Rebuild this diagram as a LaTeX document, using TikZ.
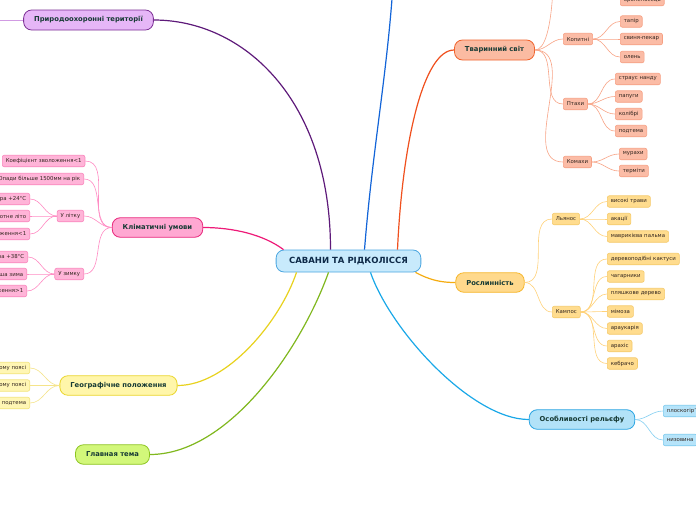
\documentclass[tikz,border=0pt]{standalone}
\usepackage{fontspec}
\setmainfont{DejaVu Sans}
\usetikzlibrary{calc}
\definecolor{maintext}{HTML}{173B35}
\definecolor{centtext}{HTML}{0E2A48}
\definecolor{subtext}{HTML}{33261F}
\definecolor{cfill}{HTML}{C8EAFC}\definecolor{cdraw}{HTML}{4BA6E0}
\definecolor{prfill}{HTML}{E6B6F7}\definecolor{prdraw}{HTML}{7C3095}\definecolor{prlink}{HTML}{5E1A7A}
\definecolor{klfill}{HTML}{FFA8D2}\definecolor{kldraw}{HTML}{E8287C}\definecolor{kllink}{HTML}{EE1A78}
\definecolor{gefill}{HTML}{FFF6AA}\definecolor{gedraw}{HTML}{EAD62C}\definecolor{gelink}{HTML}{E8D21E}
\definecolor{gtfill}{HTML}{D2F77A}\definecolor{gtdraw}{HTML}{8CC420}\definecolor{gtlink}{HTML}{80B81E}
\definecolor{anfill}{HTML}{FBBBA2}\definecolor{andraw}{HTML}{F0642E}\definecolor{anlink}{HTML}{F0501E}
\definecolor{plfill}{HTML}{FFD98C}\definecolor{pldraw}{HTML}{F6B62A}\definecolor{pllink}{HTML}{F5AC10}
\definecolor{refill}{HTML}{B2E2F8}\definecolor{redraw}{HTML}{2AA4E2}\definecolor{relink}{HTML}{1AA8E8}
\definecolor{bluelink}{HTML}{1264D8}
\definecolor{spkfill}{HTML}{FFB4D8}\definecolor{spkdraw}{HTML}{F986BD}\definecolor{spklink}{HTML}{FF8CC4}
\definecolor{ssafill}{HTML}{FBBCA6}\definecolor{ssadraw}{HTML}{F6A083}\definecolor{ssalink}{HTML}{F8A486}
\definecolor{syefill}{HTML}{FFDC8E}\definecolor{syedraw}{HTML}{F5CA6A}\definecolor{syelink}{HTML}{FFD27A}
\definecolor{sgefill}{HTML}{FFF6B4}\definecolor{sgedraw}{HTML}{F2E47C}\definecolor{sgelink}{HTML}{F5E48A}
\definecolor{scyfill}{HTML}{B6E4FA}\definecolor{scydraw}{HTML}{7CCAEE}\definecolor{scylink}{HTML}{86D0F2}
\begin{document}
\begin{tikzpicture}[x=1pt,y=-1pt,
  mainbox/.style={draw, line width=0.8pt, rounded corners=8pt, inner xsep=10.5pt, inner ysep=0pt, minimum height=19.5pt, font=\fontsize{6.8}{7.5}\selectfont\bfseries, text=maintext},
  subbox/.style={draw, line width=0.6pt, rounded corners=2pt, inner xsep=3.5pt, inner ysep=0pt, minimum height=11.5pt, font=\fontsize{5.4}{6}\selectfont, text=subtext},
  pk/.style={subbox, fill=spkfill, draw=spkdraw},
  sa/.style={subbox, fill=ssafill, draw=ssadraw},
  ye/.style={subbox, fill=syefill, draw=syedraw},
  ge/.style={subbox, fill=sgefill, draw=sgedraw},
  cy/.style={subbox, fill=scyfill, draw=scydraw},
  mainlink/.style={line width=1.2pt},
  sublink/.style={line width=0.6pt}]
\useasboundingbox (0,0) rectangle (696,520);
\fill[white] (0,0) rectangle (696,520);

% ---------- central and main nodes ----------
\node[mainbox, fill=cfill, draw=cdraw, text=centtext, font=\fontsize{8.5}{9.5}\selectfont\bfseries, inner xsep=13pt, minimum height=22pt] (c) at (348.5,261) {САВАНИ ТА РІДКОЛІССЯ};
\node[mainbox, fill=prfill, draw=prdraw, minimum height=20pt] (pr) at (88.5,20) {Природоохоронні території};
\node[mainbox, fill=klfill, draw=kldraw] (kl) at (157.5,227.5) {Кліматичні умови};
\node[mainbox, fill=gefill, draw=gedraw] (ge) at (118.5,385.5) {Географічне положення};
\node[mainbox, fill=gtfill, draw=gtdraw] (gt) at (112.5,454.5) {Главная тема};
\node[mainbox, fill=anfill, draw=andraw, minimum height=20pt] (an) at (494.5,50) {Тваринний світ};
\node[mainbox, fill=plfill, draw=pldraw] (pl) at (490,282.5) {Рослинність};
\node[mainbox, fill=refill, draw=redraw] (re) at (582,419.5) {Особливості рельєфу};

\coordinate (hidtop) at (393,-15);
\coordinate (hidpr) at (-10,20);
\coordinate (hidan) at (553,-12);

% ---------- main connectors ----------
\draw[mainlink, prlink] ([xshift=-18pt]c.north) .. controls +(0,-150) and +(90,0) .. (pr.east);
\draw[mainlink, bluelink] ([xshift=16pt]c.north) .. controls +(8,-100) and +(-6,90) .. (hidtop);
\draw[mainlink, anlink] ([xshift=49pt]c.north) .. controls +(5,-110) and +(-30,0) .. (an.west);
\draw[mainlink, kllink] ([xshift=-65pt]c.north) .. controls +(-20,-15) and +(30,0) .. (kl.east);
\draw[mainlink, gelink] ([xshift=-52pt]c.south) .. controls +(-16,48) and +(50,0) .. (ge.east);
\draw[mainlink, gtlink] ([xshift=-20pt]c.south) .. controls +(-28,78) and +(78,0) .. (gt.east);
\draw[mainlink, relink] ([xshift=22pt]c.south) .. controls +(20,58) and +(-57,0) .. (re.west);
\draw[mainlink, pllink] ([xshift=67pt]c.south) .. controls +(15,8) and +(-14,0) .. (pl.west);

% ---------- Природоохоронні ----------
\draw[sublink, prfill!80!prdraw] (pr.west) -- (hidpr);

% ---------- Кліматичні умови ----------
\node[pk, anchor=west] (k1) at (2,161) {Коефіцієнт зволоження<1};
\node[pk, anchor=east] (k2) at (84,179) {Опади більше 1500мм на рік};
\node[pk, anchor=east] (kl0) at (84,216) {У літку};
\node[pk, anchor=east] (kl1) at (30,199) {Температура +24°C};
\node[pk, anchor=east] (kl2) at (30,216) {Спекотне літо};
\node[pk, anchor=east] (kl3) at (30,234) {Коефіцієнт зволоження<1};
\node[pk, anchor=east] (kz0) at (84,274) {У зимку};
\node[pk, anchor=east] (kz1) at (28,257) {Температура +38°C};
\node[pk, anchor=east] (kz2) at (27,274) {Тепліша зима};
\node[pk, anchor=east] (kz3) at (27,291) {Коефіцієнт зволоження>1};
\foreach \n in {k1,k2,kl0,kz0}
  \draw[sublink, spklink] (kl.west) to[out=180,in=0] (\n.east);
\foreach \n in {kl1,kl2,kl3}
  \draw[sublink, spklink] (kl0.west) to[out=180,in=0] (\n.east);
\foreach \n in {kz1,kz2,kz3}
  \draw[sublink, spklink] (kz0.west) to[out=180,in=0] (\n.east);

% ---------- Географічне положення ----------
\node[ge, anchor=east] (g1) at (30,368) {у субекваторіальному поясі};
\node[ge, anchor=east] (g2) at (30,385.5) {у тропічному поясі};
\node[ge, anchor=east] (g3) at (30,403) {подтема};
\foreach \n in {g1,g2,g3}
  \draw[sublink, sgelink] (ge.west) to[out=180,in=0] (\n.east);

% ---------- Тваринний світ ----------
\node[sa, anchor=west] (a10) at (620,0) {броненосець};
\node[sa, anchor=west] (a1) at (563,39) {Копитні};
\node[sa, anchor=west] (a11) at (620,21.5) {тапір};
\node[sa, anchor=west] (a12) at (620,39) {свиня-пекар};
\node[sa, anchor=west] (a13) at (620,57) {олень};
\node[sa, anchor=west] (a2) at (563,104) {Птахи};
\node[sa, anchor=west] (a21) at (615,79) {страус нанду};
\node[sa, anchor=west] (a22) at (615,96.5) {папуги};
\node[sa, anchor=west] (a23) at (615,114) {колібрі};
\node[sa, anchor=west] (a24) at (615,131) {подтема};
\node[sa, anchor=west] (a3) at (563,162) {Комахи};
\node[sa, anchor=west] (a31) at (619,154) {мурахи};
\node[sa, anchor=west] (a32) at (619,171) {терміти};
\draw[sublink, ssalink] (an.east) .. controls +(10,0) and +(-2,40) .. (hidan);
\foreach \n in {a1,a2,a3}
  \draw[sublink, ssalink] (an.east) to[out=0,in=180] (\n.west);
\foreach \n in {a11,a12,a13}
  \draw[sublink, ssalink] (a1.east) to[out=0,in=180] (\n.west);
\foreach \n in {a21,a22,a23,a24}
  \draw[sublink, ssalink] (a2.east) to[out=0,in=180] (\n.west);
\foreach \n in {a31,a32}
  \draw[sublink, ssalink] (a3.east) to[out=0,in=180] (\n.west);

% ---------- Рослинність ----------
\node[ye, anchor=west] (p1) at (552,219) {Льянос};
\node[ye, anchor=west] (p11) at (607,201.5) {високі трави};
\node[ye, anchor=west] (p12) at (607,219) {акації};
\node[ye, anchor=west] (p13) at (607,236.5) {маврикієва пальма};
\node[ye, anchor=west] (p2) at (552,312) {Кампос};
\node[ye, anchor=west] (p21) at (607,259) {деревоподібні кактуси};
\node[ye, anchor=west] (p22) at (607,276.5) {чагарники};
\node[ye, anchor=west] (p23) at (607,294) {пляшкове дерево};
\node[ye, anchor=west] (p24) at (607,311.5) {мімоза};
\node[ye, anchor=west] (p25) at (607,328.5) {араукарія};
\node[ye, anchor=west] (p26) at (607,346) {арахіс};
\node[ye, anchor=west] (p27) at (607,363.5) {кебрачо};
\foreach \n in {p1,p2}
  \draw[sublink, syelink] (pl.east) to[out=0,in=180] (\n.west);
\foreach \n in {p11,p12,p13}
  \draw[sublink, syelink] (p1.east) to[out=0,in=180] (\n.west);
\foreach \n in {p21,p22,p23,p24,p25,p26,p27}
  \draw[sublink, syelink] (p2.east) to[out=0,in=180] (\n.west);

% ---------- Особливості рельєфу ----------
\node[cy, anchor=west] (r1) at (663,411) {плоскогір'я};
\node[cy, anchor=west] (r2) at (663,440) {низовина};
\foreach \n in {r1,r2}
  \draw[sublink, scylink] (re.east) to[out=0,in=180] (\n.west);
\end{tikzpicture}
\end{document}
